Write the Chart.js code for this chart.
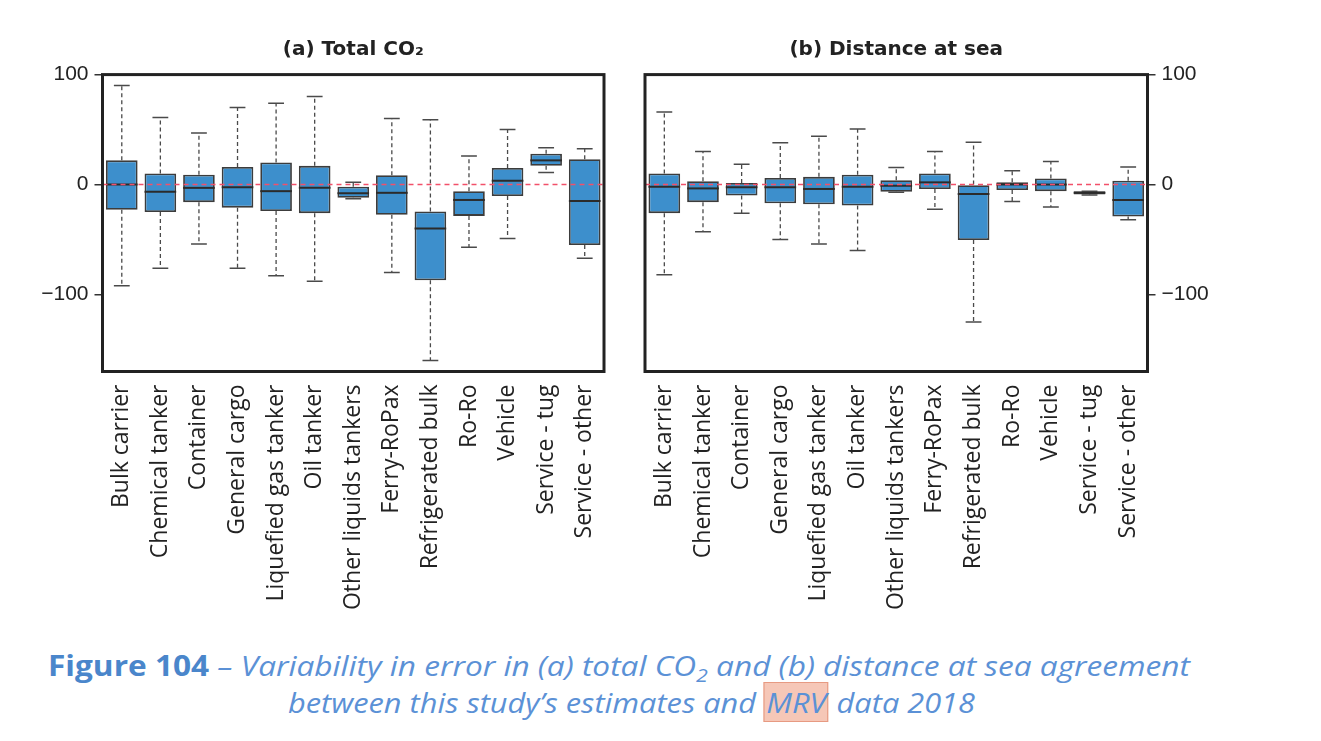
<!DOCTYPE html>
<html>
<head>
<meta charset="utf-8">
<script src="https://cdn.jsdelivr.net/npm/chart.js@4.4.0/dist/chart.umd.min.js"></script>
<style>
    body { margin: 0; background: #fff; width: 1321px; height: 741px; overflow: hidden; position: relative; }
    canvas { position: absolute; }
    #chart-a { left: 0; top: 38px; }
    #chart-b { left: 628px; top: 38px; }
    .caption-line {
        position: absolute;
        font-family: "Open Sans", sans-serif;
        font-size: 28px;
        line-height: 28px;
        color: #5b91d6;
        font-style: italic;
        white-space: nowrap;
        transform-origin: 0 0;
    }
    .caption-line b { font-style: normal; color: #4a86cb; }
    .caption-line sub { font-size: 19px; line-height: 0; vertical-align: -6px; }
    .mrv { background: #f6c7b7; border: 1px solid #e79a82; padding: 0 1px; }
</style>
</head>
<body>
<canvas id="chart-a" width="620" height="600"></canvas>
<canvas id="chart-b" width="600" height="600"></canvas>
<div class="caption-line" id="cap1" style="left:48px; top:651px;"><b>Figure 104</b> – Variability in error in (a) total CO<sub>2</sub> and (b) distance at sea agreement</div>
<div class="caption-line" id="cap2" style="left:288px; top:688px;">between this study’s estimates and <span class="mrv">MRV</span> data 2018</div>
<script>
const categories = ['Bulk carrier', 'Chemical tanker', 'Container', 'General cargo', 'Liquefied gas tanker',
    'Oil tanker', 'Other liquids tankers', 'Ferry-RoPax', 'Refrigerated bulk', 'Ro-Ro', 'Vehicle',
    'Service - tug', 'Service - other'];

// (a) Total CO2 - whisker ends, quartiles, medians
const co2Low    = [-92, -76, -54, -76, -83, -88, -13, -80, -160, -57, -49, 11, -67];
const co2Q1     = [-23, -25, -16, -21, -24, -26, -12, -27.5, -87, -28.5, -10.5, 17, -55];
const co2Median = [0, -6.5, -3, -2.5, -6, -3, -8, -7.5, -40, -14, 3.5, 22, -15];
const co2Q3     = [22, 10, 9, 16, 20, 17, -2, 8.5, -24.5, -6, 15, 28, 23];
const co2High   = [90, 61, 47, 70, 74, 80, 2, 60, 59, 26, 50, 33.5, 32.5];

// (b) Distance at sea
const distLow    = [-82, -43, -26, -50, -54, -60, -7, -22.5, -125, -15.5, -20.5, -9.5, -32];
const distQ1     = [-26, -16, -10, -17, -18, -19, -6.5, -4, -50.5, -5, -6, -9, -29];
const distMedian = [-2, -3.5, -2.5, -2.5, -4, -2, -1, 2, -8.5, 0, 0, -7.5, -14];
const distQ3     = [10, 3, 1.5, 6, 7, 9, 4, 10, 0, 2, 5.5, -6, 3.5];
const distHigh   = [66, 30, 18.5, 38, 44, 50.5, 15.5, 30, 38.5, 12.5, 21, -6, 16];

const yTicks = [-100, 0, 100];
const yMin = -170;
const yMax = 100;

// whiskers, medians, zero line and the frame, drawn from the chart's scales
const boxPlotExtras = {
    id: 'boxPlotExtras',
    afterDatasetsDraw(chart, args, opts) {
        const ctx = chart.ctx;
        const xScale = chart.scales.x;
        const yScale = chart.scales.y;
        const meta = chart.getDatasetMeta(0);
        const area = chart.chartArea;

        ctx.save();
        opts.median.forEach((m, i) => {
            const bar = meta.data[i];
            const cx = xScale.getPixelForValue(i);
            const half = bar.width / 2;
            const capHalf = half / 2;
            const yLow = yScale.getPixelForValue(opts.low[i]);
            const yQ1 = yScale.getPixelForValue(opts.q1[i]);
            const yQ3 = yScale.getPixelForValue(opts.q3[i]);
            const yHigh = yScale.getPixelForValue(opts.high[i]);
            const yMed = yScale.getPixelForValue(m);

            ctx.strokeStyle = '#4a4a4a';
            ctx.lineWidth = 1.3;
            ctx.setLineDash([4, 3]);
            ctx.beginPath();
            ctx.moveTo(cx, yQ3); ctx.lineTo(cx, yHigh);
            ctx.moveTo(cx, yQ1); ctx.lineTo(cx, yLow);
            ctx.stroke();

            ctx.setLineDash([]);
            ctx.lineWidth = 1.5;
            ctx.beginPath();
            ctx.moveTo(cx - capHalf, yHigh); ctx.lineTo(cx + capHalf, yHigh);
            ctx.moveTo(cx - capHalf, yLow); ctx.lineTo(cx + capHalf, yLow);
            ctx.stroke();

            ctx.strokeStyle = '#2b2b2b';
            ctx.lineWidth = 2;
            ctx.beginPath();
            ctx.moveTo(cx - half, yMed); ctx.lineTo(cx + half, yMed);
            ctx.stroke();
        });

        // red dashed zero reference
        const y0 = yScale.getPixelForValue(0);
        ctx.strokeStyle = '#f2506a';
        ctx.lineWidth = 1.5;
        ctx.setLineDash([5, 4]);
        ctx.beginPath();
        ctx.moveTo(area.left, y0);
        ctx.lineTo(area.right, y0);
        ctx.stroke();

        ctx.setLineDash([]);
        ctx.strokeStyle = '#222';
        ctx.lineWidth = 3;
        ctx.strokeRect(area.left, area.top, area.right - area.left, area.bottom - area.top);
        ctx.restore();
    }
};

function makeBoxChart(canvasId, titleText, low, q1, median, q3, high, side, yWidth, padLeft, padRight) {
    const boxes = q1.map((v, i) => [v, q3[i]]);

    return new Chart(document.getElementById(canvasId), {
        type: 'bar',
        data: {
            labels: categories,
            datasets: [{
                data: boxes,
                backgroundColor: '#3d8fcc',
                borderColor: '#3c3c3c',
                borderWidth: 1.8,
                borderSkipped: false,
                barPercentage: 0.82,
                categoryPercentage: 1.0
            }]
        },
        options: {
            responsive: false,
            animation: false,
            layout: { padding: { left: padLeft, right: padRight, top: 0, bottom: 0 } },
            plugins: {
                legend: { display: false },
                tooltip: { enabled: false },
                title: {
                    display: true,
                    text: titleText,
                    fullSize: false,
                    color: '#222',
                    font: { family: 'DejaVu Sans', size: 20, weight: 'bold', lineHeight: 1.2 },
                    padding: { top: 0, bottom: 12.6 }
                },
                boxPlotExtras: { low: low, q1: q1, median: median, q3: q3, high: high }
            },
            scales: {
                x: {
                    grid: { display: false },
                    border: { display: false },
                    ticks: {
                        autoSkip: false,
                        maxRotation: 90,
                        minRotation: 90,
                        padding: 5,
                        color: '#222',
                        font: { family: 'Open Sans', size: 23 }
                    },
                    afterFit(scale) { scale.height = 266.5; }
                },
                y: {
                    position: side,
                    min: yMin,
                    max: yMax,
                    border: { display: false },
                    grid: { drawOnChartArea: false, drawTicks: true, tickLength: 8, color: '#333', lineWidth: 1.5 },
                    ticks: {
                        padding: 6,
                        color: '#222',
                        font: { family: 'Liberation Sans', size: 21 },
                        callback: v => v < 0 ? '\u2212' + Math.abs(v) : String(v)
                    },
                    afterBuildTicks(scale) { scale.ticks = yTicks.map(v => ({ value: v })); },
                    afterFit(scale) { scale.width = yWidth; }
                }
            }
        },
        plugins: [boxPlotExtras]
    });
}

makeBoxChart('chart-a', '(a) Total CO\u2082', co2Low, co2Q1, co2Median, co2Q3, co2High, 'left', 102.5, 0, 16);
makeBoxChart('chart-b', '(b) Distance at sea', distLow, distQ1, distMedian, distQ3, distHigh, 'right', 80.5, 17, 0);

// squeeze caption lines to the reference widths
function fitWidth(id, target) {
    const el = document.getElementById(id);
    const w = el.getBoundingClientRect().width;
    el.style.transform = 'scaleX(' + (target / w) + ')';
}
fitWidth('cap1', 1142);
fitWidth('cap2', 687);
</script>
</body>
</html>
